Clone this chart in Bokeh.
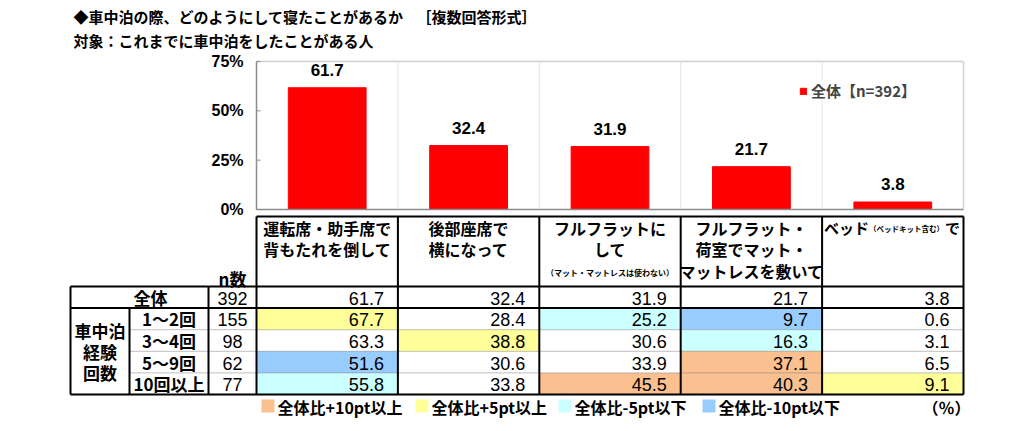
import numpy as np
from bokeh.plotting import figure
from bokeh.models import Range1d, Legend, LegendItem
from bokeh.core.properties import value
from bokeh.embed import file_html
from bokeh.resources import INLINE

# ---------------- data ----------------
title_main = "◆車中泊の際、どのようにして寝たことがあるか"
title_tag = "［複数回答形式］"
title_sub = "対象：これまでに車中泊をしたことがある人"

categories = ["運転席・助手席で背もたれを倒して", "後部座席で横になって", "フルフラットにして",
              "フルフラット・荷室でマット・マットレスを敷いて", "ベッド（ベッドキット含む）で"]
header_lines = [["運転席・助手席で", "背もたれを倒して"],
                ["後部座席で", "横になって"],
                ["フルフラットに", "して"],
                ["フルフラット・", "荷室でマット・", "マットレスを敷いて"],
                []]
header_note = "（マット・マットレスは使わない）"
bed_parts = ["ベッド", "（ベッドキット含む）", "で"]

overall_label = "全体"
overall_n = 392
overall_values = [61.7, 32.4, 31.9, 21.7, 3.8]
legend_label = "全体【n=392】"

group_title = ["車中泊", "経験", "回数"]
group_labels = ["1～2回", "3～4回", "5～9回", "10回以上"]
group_n = [155, 98, 62, 77]
group_values = [
    [67.7, 28.4, 25.2, 9.7, 0.6],
    [63.3, 38.8, 30.6, 16.3, 3.1],
    [51.6, 30.6, 33.9, 37.1, 6.5],
    [55.8, 33.8, 45.5, 40.3, 9.1],
]
y_ticks = [0, 25, 50, 75]
n_header = "n数"
key_labels = ["全体比+10pt以上", "全体比+5pt以上", "全体比-5pt以下", "全体比-10pt以下"]
key_colors = ["#FAC090", "#FFFF99", "#CCFFFF", "#99CCFF"]
unit_label = "（％）"

# ---------------- style / layout ----------------
JP = value("Noto Sans CJK JP")
NUM = value("Liberation Sans")
RED = "#FF0000"
AXIS_GREY = "#8c8c8c"

# canvas in picture pixels
PX0, PX1, PY0, PY1 = 0, 1016, 0, 423
# bar chart frame in picture pixels
FL, FR, FT, FB = 256, 963, 61, 209
ncat = len(categories)
YMAX = y_ticks[-1]


def cell_color(v, base):
    d = v - base
    if d >= 10:
        return key_colors[0]
    if d >= 5:
        return key_colors[1]
    if d <= -10:
        return key_colors[3]
    if d <= -5:
        return key_colors[2]
    return "#FFFFFF"


p = figure(width=PX1 - PX0, height=PY1 - PY0,
           x_range=Range1d(PX0, PX1), y_range=Range1d(PY1, PY0),
           output_backend="svg", toolbar_location=None,
           x_axis_location=None, y_axis_location=None,
           min_border=0, min_border_left=0, min_border_right=0,
           min_border_top=0, min_border_bottom=0)
p.outline_line_color = None
p.grid.visible = False

# data ranges for the bar chart mapped onto the frame area
kx = (FR - FL) / ncat
bx_start = -(FL - PX0) / kx
p.extra_x_ranges = {"bx": Range1d(bx_start, bx_start + (PX1 - PX0) / kx)}
ky = (FB - FT) / YMAX
py_start = -(PY1 - FB) / ky
p.extra_y_ranges = {"pct": Range1d(py_start, py_start + (PY1 - PY0) / ky)}

# ---- title ----
p.text(x=[73, 416, 73], y=[16, 16, 40], text=[title_main, title_tag, title_sub],
       text_font=JP, text_font_size="15px", text_font_style="bold",
       text_align="left", text_baseline="middle", text_color="#000000")

# ---- bar chart ----
xs = np.arange(ncat) + 0.5
p.segment(x0=[0, ncat] + list(range(1, ncat)), x1=[ncat, ncat] + list(range(1, ncat)),
          y0=[YMAX, 0] + [0] * (ncat - 1), y1=[YMAX, YMAX] + [YMAX] * (ncat - 1),
          x_range_name="bx", y_range_name="pct",
          line_color=["#d0d0d0", "#d0d0d0"] + ["#e4e4e4"] * (ncat - 1),
          line_width=[1.5, 1.5] + [1] * (ncat - 1))
bars = p.vbar(x=xs, top=overall_values, width=0.55, fill_color=RED, line_color=RED,
              x_range_name="bx", y_range_name="pct")
p.text(x=xs, y=overall_values, text=[f"{v:.1f}" for v in overall_values],
       x_range_name="bx", y_range_name="pct",
       text_font=NUM, text_font_size="17px", text_font_style="bold",
       text_align="center", text_baseline="bottom", y_offset=-12, text_color="#000000")
# y axis: line, inward ticks, labels
p.segment(x0=[FL], x1=[FL], y0=[0], y1=[YMAX], y_range_name="pct",
          line_color=AXIS_GREY, line_width=1.5)
p.segment(x0=[FL] * len(y_ticks), x1=[FL + 4] * len(y_ticks), y0=y_ticks, y1=y_ticks,
          y_range_name="pct", line_color=AXIS_GREY, line_width=1)
p.segment(x0=[0], x1=[ncat], y0=[0], y1=[0], x_range_name="bx", y_range_name="pct",
          line_color=AXIS_GREY, line_width=1.5)
p.text(x=[FL - 13] * len(y_ticks), y=y_ticks, text=[f"{t}%" for t in y_ticks],
       y_range_name="pct", text_font=NUM, text_font_size="16px", text_font_style="bold",
       text_align="right", text_baseline="middle", text_color="#000000")

leg = Legend(items=[LegendItem(label=legend_label, renderers=[bars])],
             location=(799, 322), glyph_width=8, glyph_height=8,
             label_standoff=4, label_text_font="Noto Sans CJK JP",
             label_text_font_style="bold", label_text_font_size="15px",
             padding=8, margin=0, spacing=0, border_line_color=None,
             background_fill_color="#FFFFFF", background_fill_alpha=1.0)
p.add_layout(leg)

# ---- table ----
col_edges = list(np.linspace(FL, FR, ncat + 1))
col_mid = [(col_edges[i] + col_edges[i + 1]) / 2 for i in range(ncat)]
head_top = 216
row_edges = list(np.linspace(286, 394, len(group_labels) + 2))
row_mid = [(row_edges[i] + row_edges[i + 1]) / 2 for i in range(len(row_edges) - 1)]
x_left, x_grp, x_lab, x_n = 70, 129, 208, 256

ql, qr, qt, qb, qc = [], [], [], [], []
for r, vals in enumerate(group_values):
    for c, v in enumerate(vals):
        col = cell_color(v, overall_values[c])
        if col != "#FFFFFF":
            ql.append(col_edges[c]); qr.append(col_edges[c + 1])
            qt.append(row_edges[r + 1]); qb.append(row_edges[r + 2]); qc.append(col)
p.quad(left=ql, right=qr, top=qt, bottom=qb, fill_color=qc, line_color=None)

dy = row_edges[2:-1]
p.segment(x0=[x_grp] * len(dy), x1=[FR] * len(dy), y0=dy, y1=dy,
          line_color="#7f7f7f", line_width=1, line_dash="1 1")

sx0, sx1, sy0, sy1 = [], [], [], []
def seg(a, b, c, d):
    sx0.append(a); sy0.append(b); sx1.append(c); sy1.append(d)
seg(FL, head_top, FR, head_top)
for e in col_edges:
    seg(e, head_top, e, row_edges[-1])
for yv in (row_edges[0], row_edges[1], row_edges[-1]):
    seg(x_left, yv, FR, yv)
seg(x_left, row_edges[0], x_left, row_edges[-1])
seg(x_grp, row_edges[1], x_grp, row_edges[-1])
seg(x_lab, row_edges[0], x_lab, row_edges[-1])
p.segment(x0=sx0, y0=sy0, x1=sx1, y1=sy1, line_color="#000000", line_width=2)

# header texts
hx, hy, ht = [], [], []
line_ys = [227, 248.5, 270]
for c, lines in enumerate(header_lines):
    for i, t in enumerate(lines):
        hx.append(col_mid[c]); hy.append(line_ys[i]); ht.append(t)
p.text(x=hx, y=hy, text=ht, text_font=JP, text_font_size="16px", text_font_style="bold",
       text_align="center", text_baseline="middle", text_color="#000000")
p.text(x=[col_mid[2]], y=[272], text=[header_note], text_font=JP, text_font_size="8px",
       text_font_style="bold", text_align="center", text_baseline="middle")
bx = col_edges[4] + 2
p.text(x=[bx, bx + 121], y=[227, 227], text=[bed_parts[0], bed_parts[2]], text_font=JP,
       text_font_size="15px", text_font_style="bold", text_align="left",
       text_baseline="middle")
p.text(x=[bx + 45], y=[228], text=[bed_parts[1]], text_font=JP, text_font_size="7.5px",
       text_font_style="bold", text_align="left", text_baseline="middle")
p.text(x=[232], y=[278], text=[n_header], text_font=JP, text_font_size="17px",
       text_font_style="bold", text_align="center", text_baseline="middle")

# row labels
p.text(x=[150], y=[row_mid[0]], text=[overall_label], text_font=JP, text_font_size="17px",
       text_font_style="bold", text_align="center", text_baseline="middle")
p.text(x=[(x_grp + x_lab) / 2] * len(group_labels), y=row_mid[1:], text=group_labels,
       text_font=JP, text_font_size="17px", text_font_style="bold",
       text_align="center", text_baseline="middle")
p.text(x=[(x_left + x_grp) / 2] * 3, y=[330, 351, 372], text=group_title, text_font=JP,
       text_font_size="17px", text_font_style="bold", text_align="center",
       text_baseline="middle")

# numbers
nx = [(x_lab + x_n) / 2] * (1 + len(group_n))
p.text(x=nx, y=row_mid, text=[str(overall_n)] + [str(v) for v in group_n],
       text_font=NUM, text_font_size="18px", text_align="center",
       text_baseline="middle", y_offset=1)
vx, vy, vt = [], [], []
all_rows = [overall_values] + group_values
for r, vals in enumerate(all_rows):
    for c, v in enumerate(vals):
        vx.append(col_edges[c + 1] - 14); vy.append(row_mid[r]); vt.append(f"{v:.1f}")
p.text(x=vx, y=vy, text=vt, text_font=NUM, text_font_size="18px", text_align="right",
       text_baseline="middle", y_offset=1)

# color key
key_x = [261, 415, 558, 702]
p.quad(left=key_x, right=[k + 13 for k in key_x], top=[399] * 4, bottom=[412] * 4,
       fill_color=key_colors, line_color=None)
p.text(x=[k + 16 for k in key_x], y=[406] * 4, text=key_labels, text_font=JP,
       text_font_size="16px", text_font_style="bold", text_align="left",
       text_baseline="middle")
p.text(x=[922], y=[406], text=[unit_label], text_font=JP, text_font_size="16px",
       text_font_style="bold", text_align="left", text_baseline="middle")

open("out.html", "w").write(file_html(p, INLINE))
